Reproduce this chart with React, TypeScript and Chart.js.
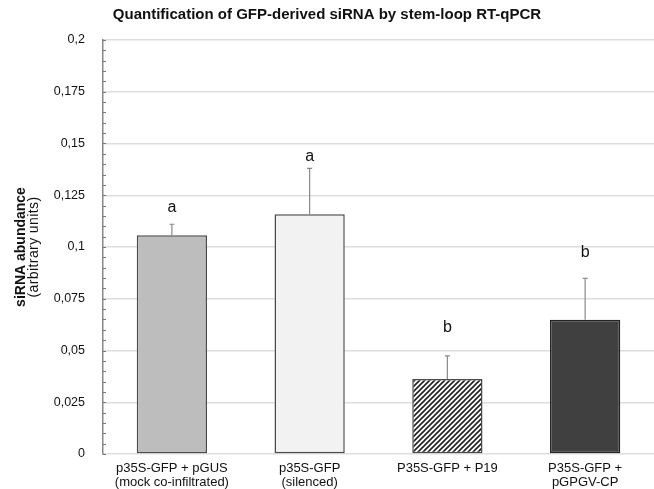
import React, { useEffect, useRef } from "react";
import { Chart, registerables } from "chart.js";
Chart.register(...registerables);

const titleText = "Quantification of GFP-derived siRNA by stem-loop RT-qPCR";
const yTitleMain = "siRNA abundance";
const yTitleSub = "(arbitrary units)";
const categories: string[][] = [
  ["p35S-GFP + pGUS", "(mock co-infiltrated)"],
  ["p35S-GFP", "(silenced)"],
  ["P35S-GFP + P19"],
  ["P35S-GFP +", "pGPGV-CP"],
];
const means = [0.1057, 0.1158, 0.0362, 0.0648];
const errors = [0.0053, 0.0222, 0.0112, 0.02];
const letters = ["a", "a", "b", "b"];
const letterValues = [0.1188, 0.1438, 0.0612, 0.0975];
const yMin = 0;
const yMax = 0.2;
const yStep = 0.025;
const minorStep = 0.005;

const FONT = "'Liberation Sans', Arial, Helvetica, sans-serif";

function hatchPattern(): CanvasPattern | string {
  const c = document.createElement("canvas");
  const s = 5;
  c.width = s;
  c.height = s;
  const g = c.getContext("2d");
  if (!g) return "#fff";
  g.fillStyle = "#ffffff";
  g.fillRect(0, 0, s, s);
  g.strokeStyle = "#222";
  g.lineWidth = 1.6;
  g.beginPath();
  g.moveTo(-1, s + 1);
  g.lineTo(s + 1, -1);
  g.moveTo(-1, 1);
  g.lineTo(1, -1);
  g.moveTo(s - 1, s + 1);
  g.lineTo(s + 1, s - 1);
  g.stroke();
  const p = g.createPattern(c, "repeat");
  return p || "#fff";
}

export default function App() {
  const ref = useRef<HTMLCanvasElement>(null);
  useEffect(() => {
    if (!ref.current) return;
    const overlay = {
      id: "overlay",
      afterDatasetsDraw(chart: any) {
        const ctx = chart.ctx;
        const xs = chart.scales.x;
        const ys = chart.scales.y;
        const area = chart.chartArea;
        ctx.save();
        // minor ticks inside axis
        ctx.strokeStyle = "#777";
        ctx.lineWidth = 1;
        for (let v = yMin; v <= yMax + 1e-9; v += minorStep) {
          const y = Math.round(ys.getPixelForValue(v)) + 0.5;
          ctx.beginPath();
          ctx.moveTo(area.left, y);
          ctx.lineTo(area.left + 3, y);
          ctx.stroke();
        }
        // error bars
        ctx.strokeStyle = "#8a8a8a";
        ctx.lineWidth = 1.2;
        means.forEach((m, i) => {
          const x = xs.getPixelForValue(i);
          const y0 = ys.getPixelForValue(m);
          const y1 = ys.getPixelForValue(m + errors[i]);
          ctx.beginPath();
          ctx.moveTo(x, y0);
          ctx.lineTo(x, y1);
          ctx.moveTo(x - 2.5, y1);
          ctx.lineTo(x + 2.5, y1);
          ctx.stroke();
        });
        // letters
        ctx.fillStyle = "#111";
        ctx.font = `16px ${FONT}`;
        ctx.textAlign = "center";
        ctx.textBaseline = "middle";
        letters.forEach((l, i) => {
          ctx.fillText(l, xs.getPixelForValue(i), ys.getPixelForValue(letterValues[i]));
        });
        // title
        ctx.font = `bold 15px ${FONT}`;
        ctx.fillText(titleText, 327, 15);
        // y title
        const cy = (area.top + area.bottom) / 2;
        ctx.save();
        ctx.translate(21, cy);
        ctx.rotate(-Math.PI / 2);
        ctx.font = `bold 14px ${FONT}`;
        ctx.fillText(yTitleMain, 0, 0);
        ctx.restore();
        ctx.save();
        ctx.translate(34, cy);
        ctx.rotate(-Math.PI / 2);
        ctx.font = `14px ${FONT}`;
        (ctx as any).letterSpacing = "0.4px";
        ctx.fillText(yTitleSub, 0, 0);
        ctx.restore();
        ctx.restore();
      },
    };
    const chart = new Chart(ref.current, {
      type: "bar",
      data: {
        labels: categories,
        datasets: [
          {
            data: means,
            backgroundColor: ["#bdbdbd", "#f2f2f2", hatchPattern(), "#404040"],
            borderColor: ["#4a4a4a", "#4a4a4a", "#4a4a4a", "#222222"],
            borderWidth: 1.5,
            borderSkipped: false,
            barPercentage: 0.51,
            categoryPercentage: 1,
          },
        ],
      },
      options: {
        animation: false,
        responsive: false,
        maintainAspectRatio: false,
        layout: { padding: { top: 40, right: 0, left: 0, bottom: 0 } },
        plugins: {
          legend: { display: false },
          tooltip: { enabled: false },
          title: { display: false },
        },
        scales: {
          x: {
            grid: { display: false, drawTicks: false },
            border: { display: false },
            ticks: {
              color: "#111",
              font: { family: FONT, size: 13, lineHeight: 1.08 },
              padding: 7,
              maxRotation: 0,
              autoSkip: false,
            },
            afterFit(scale: any) {
              scale.height = 35;
            },
          },
          y: {
            min: yMin,
            max: yMax,
            ticks: {
              stepSize: yStep,
              color: "#111",
              font: { family: FONT, size: 12.5 },
              padding: 18,
              callback: (v: any) => String(Number(Number(v).toFixed(3))).replace(".", ","),
            },
            grid: { color: "#dddddd", lineWidth: 1.5, drawTicks: false },
            border: { display: true, color: "#888", width: 1.5 },
            afterFit(scale: any) {
              scale.width = 103;
            },
          },
        },
      },
      plugins: [overlay],
    } as any);
    return () => chart.destroy();
  }, []);
  return (
    <div style={{ position: "absolute", left: 0, top: 0, width: 654, height: 489, background: "#fff" }}>
      <canvas ref={ref} width={654} height={489} style={{ width: 654, height: 489 }} />
    </div>
  );
}
